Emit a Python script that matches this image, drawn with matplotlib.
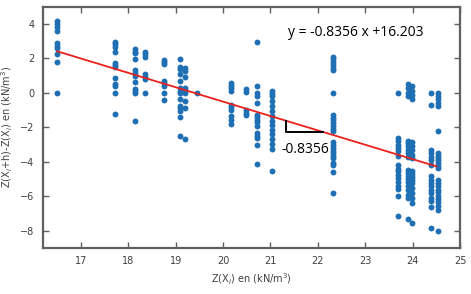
import matplotlib
matplotlib.use("Agg")
import matplotlib.pyplot as plt
import numpy as np

# fitted line
slope = -0.8356
intercept = 16.203
fit_range = [16.5, 24.5]

# scatter columns (x position -> y values)
cluster_x = [16.5, 17.73, 18.15, 18.35, 18.76, 19.1, 19.2, 19.45,
             20.17, 20.48, 20.72, 21.04, 22.31, 23.69, 23.91, 23.99,
             24.38, 24.53]
cluster_y = [
    [4.15, 4.0, 3.85, 3.6, 2.9, 2.75, 2.6, 2.25, 1.8, 0.0],
    [2.94, 2.82, 2.68, 2.39, 1.76, 1.62, 1.49, 0.85, 0.52, 0.37, 0.0, -1.22],
    [2.53, 2.39, 2.3, 1.97, 1.33, 1.14, 1.0, 0.62, 0.21, 0.08, 0.0, -1.62],
    [2.36, 2.24, 2.1, 1.08, 0.94, 0.81, 0.0],
    [1.91, 1.78, 1.66, 0.7, 0.56, 0.42, 0.0, -0.41],
    [1.95, 1.53, 1.39, 1.08, 0.7, 0.27, 0.13, 0.02, -0.35, -0.75, -0.89,
     -1.03, -1.41, -2.53],
    [1.43, 1.29, 0.91, 0.27, 0.13, 0.02, -0.46, -0.89, -2.67],
    [0.0],
    [0.56, 0.42, 0.27, 0.12, -0.7, -0.83, -0.99, -1.37, -1.57, -1.8],
    [0.2, 0.05, -1.0, -1.15, -1.3],
    [2.95, 0.37, 0.0, -0.17, -0.56, -1.28, -1.41, -1.57, -1.72, -1.95,
     -2.34, -2.49, -2.63, -3.01, -4.15],
    [0.08, -0.08, -0.21, -0.5, -0.75, -1.08, -1.37, -1.61, -1.86, -2.14,
     -2.38, -2.69, -2.97, -3.28, -4.54],
    [2.1, 1.95, 1.8, 1.6, 1.45, 1.3, 0.0, -1.3, -1.45, -1.6, -1.75, -1.9,
     -2.1, -2.2, -2.85, -3.0, -3.2, -3.35, -3.5, -3.65, -3.8, -4.05, -4.2,
     -4.6, -5.8],
    [0.0, -2.65, -2.82, -3.0, -3.2, -3.4, -3.65, -4.2, -4.4, -4.55, -4.75,
     -4.95, -5.2, -5.4, -5.6, -6.0, -7.17],
    [0.5, 0.27, 0.02, -0.21, -2.78, -2.92, -3.11, -3.3, -3.5, -3.73, -4.46,
     -4.66, -4.81, -5.0, -5.2, -5.43, -5.66, -5.91, -6.1, -7.32],
    [0.41, 0.13, -0.12, -0.37, -2.88, -3.07, -3.3, -3.59, -3.79, -4.56,
     -4.7, -4.89, -5.04, -5.24, -5.53, -5.81, -6.1, -6.39, -7.55],
    [0.0, -0.7, -3.3, -3.5, -3.7, -3.88, -4.17, -4.85, -5.04, -5.24, -5.43,
     -5.62, -5.81, -6.1, -6.3, -6.6, -7.84],
    [0.02, -0.17, -0.37, -0.56, -0.75, -2.24, -3.5, -3.65, -3.79, -3.92,
     -4.08, -4.23, -4.37, -5.04, -5.24, -5.43, -5.62, -5.78, -5.97, -6.16,
     -6.36, -6.59, -6.78, -8.0],
]

x_ticks = [17, 18, 19, 20, 21, 22, 23, 24, 25]
y_ticks = [-8, -6, -4, -2, 0, 2, 4]

# slope marker
tri_x = [21.32, 22.1]

fig = plt.figure(figsize=(4.71, 2.94), dpi=100)
ax = fig.add_axes([0.091, 0.157, 0.886, 0.82])

for cx, ys in zip(cluster_x, cluster_y):
    ax.scatter([cx] * len(ys), ys, s=18, color="#1f6fb5", zorder=2,
               linewidths=0)

fx = np.array(fit_range)
ax.plot(fx, slope * fx + intercept, color="#e8211c", lw=1.3, zorder=3)

y_top = slope * tri_x[0] + intercept
y_bot = slope * tri_x[1] + intercept
ax.plot([tri_x[0], tri_x[0], tri_x[1]], [y_top, y_bot, y_bot],
        color="black", lw=1.4, zorder=4)
ax.text(tri_x[0] - 0.08, y_bot - 1.0, "-0.8356", fontsize=10,
        va="center", ha="left", family="Open Sans")
ax.text(21.37, 3.48, "y = -0.8356 x +16.203", fontsize=10,
        va="center", ha="left", family="Open Sans")

ax.set_xlim(16.2, 25)
ax.set_ylim(-9, 5)
ax.set_xticks(x_ticks)
ax.set_yticks(y_ticks)
ax.tick_params(direction="in", length=4, width=1, color="#606060",
               top=True, right=True, labelsize=7, labelcolor="#404040",
               pad=6)
for sp in ax.spines.values():
    sp.set_color("#606060")
    sp.set_linewidth(1.6)

ax.set_xlabel(r"Z(X$_i$) en (kN/m$^3$)", fontsize=7, color="#404040")
ax.set_ylabel(r"Z(X$_i$+h)-Z(X$_i$) en (kN/m$^3$)", fontsize=7,
              color="#404040")

fig.savefig("out.png", dpi=100)
